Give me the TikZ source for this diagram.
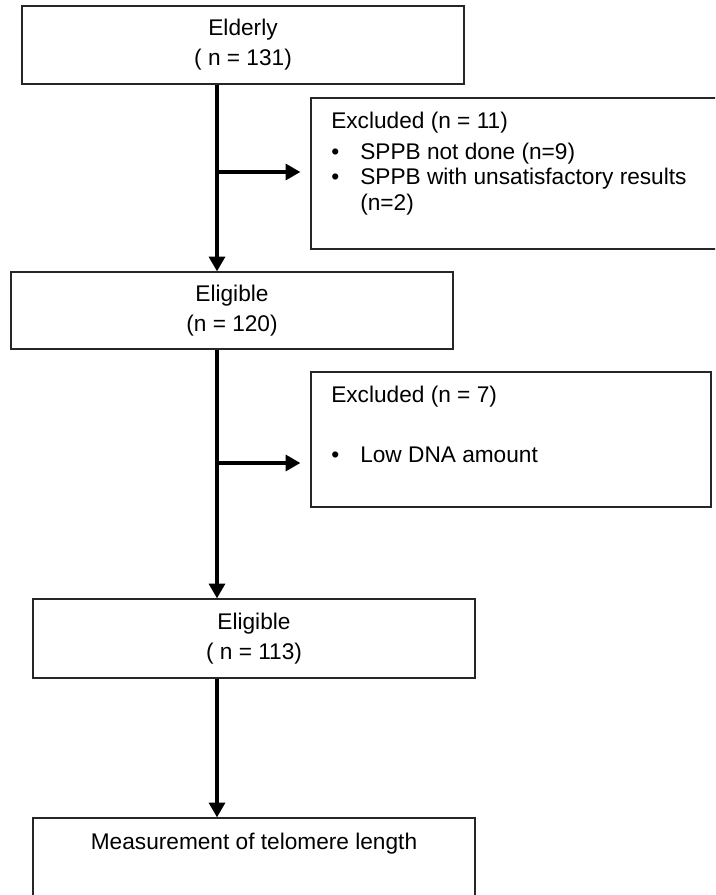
\documentclass[tikz,border=0pt]{standalone}
\usepackage{fontspec}
\setmainfont{Liberation Sans}
\usetikzlibrary{arrows.meta}

\tikzset{
  box/.style={draw=black!85, line width=1pt, inner sep=0pt, align=center,
    font=\fontsize{17}{22.5}\selectfont},
  note/.style={inner sep=0pt, anchor=base west, align=left,
    font=\fontsize{17}{19}\selectfont},
  flow/.style={line width=2.3pt, -{Triangle[length=11pt,width=12pt]}}
}
\newcommand{\bul}{\makebox[21.75pt][l]{\textbullet}}

\begin{document}
\begin{tikzpicture}[x=0.75pt,y=-0.75pt]
  \clip (0,0) rectangle (715,895);

  % cajas principales
  \node[box, minimum width=331.5pt, minimum height=58.5pt] (elderly) at (243,45) {Elderly\\( n = 131)};
  \node[box, minimum width=331.5pt, minimum height=57.75pt] (elig1) at (232,310.5) {Eligible\\(n = 120)};
  \node[box, minimum width=331.5pt, minimum height=59.25pt] (elig2) at (254,638.5) {Eligible\\( n = 113)};
  \node[box, minimum width=331.5pt, minimum height=106.5pt] (measure) at (254,889) {};
  \node[note, anchor=base] (measuretxt) at (254,849) {Measurement of telomere length};

  % cajas de exclusion
  \node[box, minimum width=314.25pt, minimum height=113.25pt] (excl1) at (520.5,173.5) {};
  \node[note] (excl1txt) at (331,129) {%
    \begin{tabular}[t]{@{}l@{}}
      Excluded (n = 11)\\[4pt]
      \bul SPPB not done (n=9)\\
      \bul SPPB with unsatisfactory results\\
      \hspace{21.75pt}(n=2)
    \end{tabular}};
  \node[box, minimum width=300pt, minimum height=101.25pt] (excl2) at (511,439.5) {};
  \node[note] (excl2txt) at (331,402) {%
    \begin{tabular}[t]{@{}l@{}}
      Excluded (n = 7)\\[26pt]
      \bul Low DNA amount
    \end{tabular}};

  % linea principal y ramas
  \coordinate (trunk) at (217,0);
  \coordinate (br1) at (217,172);
  \coordinate (br2) at (217,463);

  \draw[flow] (elderly.south -| trunk) -- (elig1.north -| trunk);
  \draw[flow] (elig1.south -| trunk) -- (elig2.north -| trunk);
  \draw[flow] (elig2.south -| trunk) -- (measure.north -| trunk);

  \draw[flow, shorten >=7.5pt] (br1) -- (br1 -| excl1.west);
  \draw[flow, shorten >=7.5pt] (br2) -- (br2 -| excl2.west);
\end{tikzpicture}
\end{document}
